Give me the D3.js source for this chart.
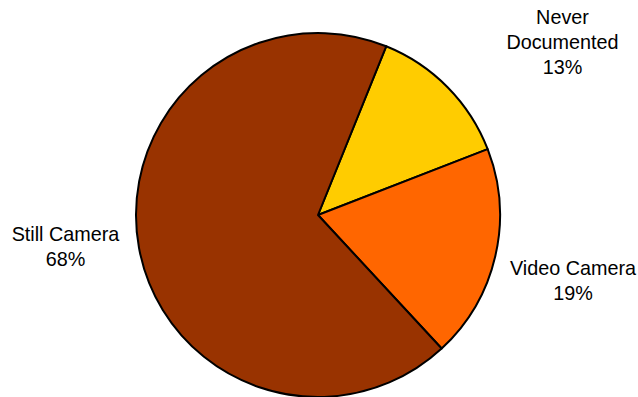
<!DOCTYPE html>
<html>
<head>
<meta charset="utf-8">
<script src="https://cdn.jsdelivr.net/npm/d3@7"></script>
<style>
  body { margin: 0; background: #fff; }
</style>
</head>
<body>
<div id="chart"></div>
<script>
// slice data, in drawing order (clockwise from the top-right)
const categories = ["Never Documented", "Video Camera", "Still Camera"]
const values = [13, 19, 68]
const labelLines = [["Never", "Documented", "13%"], ["Video Camera", "19%"], ["Still Camera", "68%"]]
const colors = ["#ffcc00", "#ff6600", "#993300"]

const width = 638, height = 397
const cx = 318, cy = 215, radius = 182

const svg = d3.select("#chart")
  .append("svg")
  .attr("width", width)
  .attr("height", height)

const g = svg.append("g")
  .attr("transform", `translate(${cx},${cy})`)

const startAngle = 22 * Math.PI / 180
const pie = d3.pie()
  .sort(null)
  .value(d => d)
  .startAngle(startAngle)
  .endAngle(startAngle + 2 * Math.PI)

const arc = d3.arc()
  .innerRadius(0)
  .outerRadius(radius)

const arcs = pie(values)

g.selectAll("path")
  .data(arcs)
  .join("path")
  .attr("d", arc)
  .attr("fill", (d, i) => colors[i])
  .attr("stroke", "#000")
  .attr("stroke-width", 2)
  .attr("stroke-linejoin", "round")

// label positions (centre of text block, relative to pie centre)
const labelPos = [[244.5, -173], [255, 66], [-252.5, 31.5]]
const lineH = 25

const labels = g.selectAll("text.lbl")
  .data(arcs)
  .join("text")
  .attr("class", "lbl")
  .attr("text-anchor", "middle")
  .style("font-family", "'Liberation Sans', Arial, sans-serif")
  .style("font-size", "19.8px")
  .attr("fill", "#000")

labels.each(function (d, i) {
  const lines = labelLines[i]
  const t = d3.select(this)
  const y0 = labelPos[i][1] - (lines.length - 1) * lineH / 2
  lines.forEach((s, k) => {
    t.append("tspan")
      .attr("x", labelPos[i][0])
      .attr("y", y0 + k * lineH)
      .attr("dy", "0.35em")
      .text(s)
  })
})
</script>
</body>
</html>
